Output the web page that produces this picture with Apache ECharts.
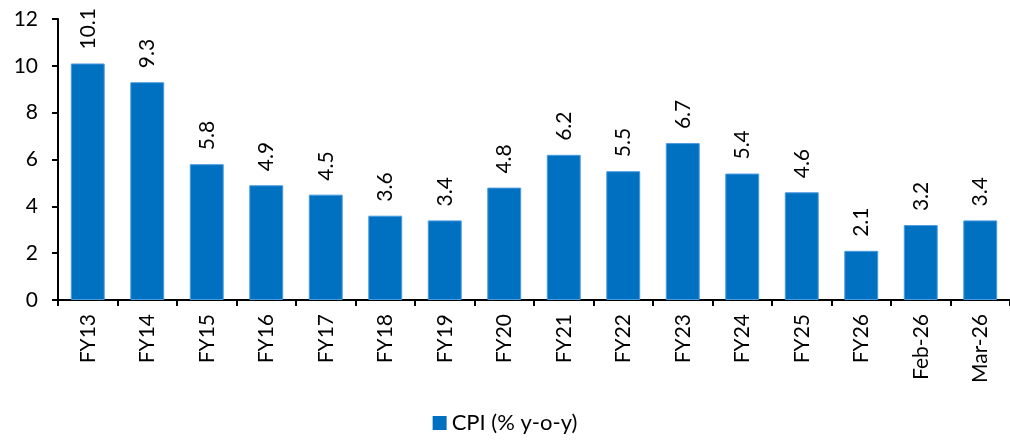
<!DOCTYPE html>
<html>
<head>
<meta charset="utf-8">
<script src="https://cdn.jsdelivr.net/npm/echarts@6/dist/echarts.min.js"></script>
<style>
html, body { margin: 0; padding: 0; background: #fff; }
#chart { width: 1010px; height: 442px; }
</style>
</head>
<body>
<div id="chart"></div>
<script>
const categories = ['FY13', 'FY14', 'FY15', 'FY16', 'FY17', 'FY18', 'FY19', 'FY20',
    'FY21', 'FY22', 'FY23', 'FY24', 'FY25', 'FY26', 'Feb-26', 'Mar-26'];
const cpiValues = [10.1, 9.3, 5.8, 4.9, 4.5, 3.6, 3.4, 4.8, 6.2, 5.5, 6.7, 5.4, 4.6, 2.1, 3.2, 3.4];
const seriesName = 'CPI (% y-o-y)';

const font = 'Lato, "Open Sans", sans-serif';
const chart = echarts.init(document.getElementById('chart'));
chart.setOption({
    animation: false,
    textStyle: { fontFamily: font },
    grid: {
        left: 58,
        right: -6,
        top: 19,
        bottom: 142
    },
    legend: {
        bottom: 3,
        left: 'center',
        itemWidth: 14,
        itemHeight: 14,
        itemGap: 4,
        icon: 'rect',
        itemStyle: { borderWidth: 0 },
        textStyle: { fontSize: 22, color: '#000', fontFamily: font },
        data: [seriesName]
    },
    xAxis: {
        type: 'category',
        data: categories,
        axisLine: { lineStyle: { color: '#000', width: 2 } },
        axisTick: { show: true, length: 6, lineStyle: { color: '#000', width: 2 } },
        axisLabel: {
            rotate: 90,
            color: '#000',
            fontSize: 21,
            margin: 14,
            interval: 0
        }
    },
    yAxis: {
        type: 'value',
        min: 0,
        max: 12,
        interval: 2,
        splitLine: { show: false },
        axisLine: { show: true, lineStyle: { color: '#000', width: 2 } },
        axisTick: { show: true, length: 6, lineStyle: { color: '#000', width: 2 } },
        axisLabel: { color: '#000', fontSize: 21, margin: 20 }
    },
    series: [
        {
            name: seriesName,
            type: 'bar',
            data: cpiValues,
            barCategoryGap: '43%',
            itemStyle: {
                color: '#0070C0',
                borderColor: '#4a9be0',
                borderWidth: 1
            },
            label: {
                show: true,
                position: 'top',
                rotate: 90,
                align: 'left',
                verticalAlign: 'middle',
                distance: 14,
                color: '#000',
                fontSize: 21,
                formatter: p => p.value.toFixed(1)
            }
        }
    ]
});
</script>
</body>
</html>
